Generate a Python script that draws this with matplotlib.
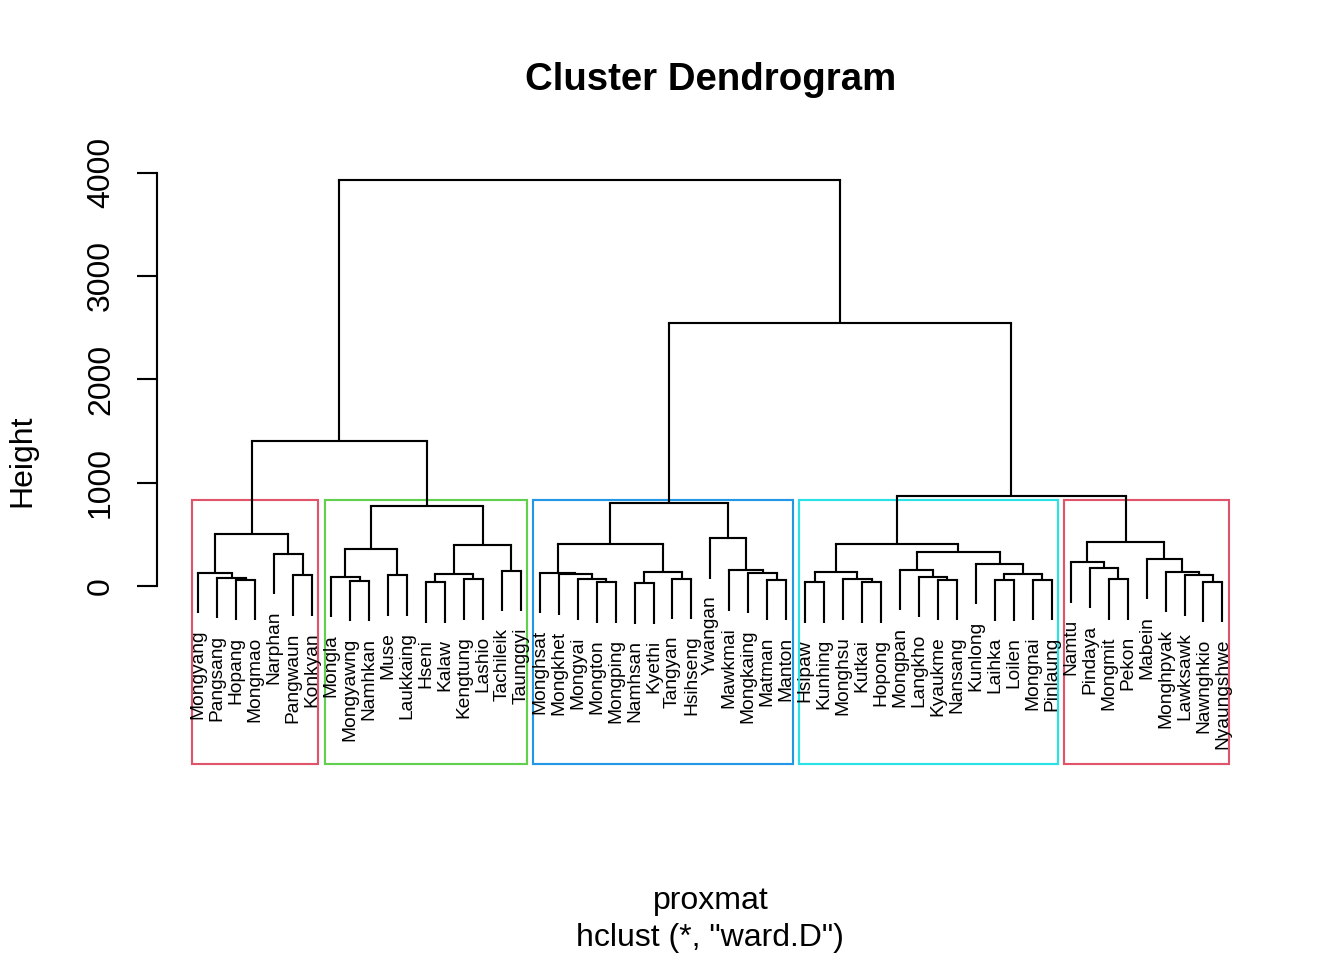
import matplotlib
matplotlib.use("Agg")
import matplotlib.pyplot as plt
from matplotlib.patches import Rectangle

plt.rcParams['font.family'] = ['Liberation Sans', 'DejaVu Sans']

# leaf labels in the order they are drawn
labels = ["Mongyang", "Pangsang", "Hopang", "Mongmao", "Narphan", "Pangwaun", "Konkyan",
          "Mongla", "Mongyawng", "Namhkan", "Muse", "Laukkaing", "Hseni", "Kalaw",
          "Kengtung", "Lashio", "Tachileik", "Taunggyi",
          "Monghsat", "Mongkhet", "Mongyai", "Mongton", "Mongping", "Namhsan", "Kyethi",
          "Tangyan", "Hsihseng", "Ywangan", "Mawkmai", "Mongkaing", "Matman", "Manton",
          "Hsipaw", "Kunhing", "Monghsu", "Kutkai", "Hopong", "Mongpan", "Langkho",
          "Kyaukme", "Nansang", "Kunlong", "Laihka", "Loilen", "Mongnai", "Pinlaung",
          "Namtu", "Pindaya", "Mongmit", "Pekon", "Mabein", "Monghpyak", "Lawksawk",
          "Nawnghkio", "Nyaungshwe"]

# merges: a child is a leaf name (str) or the index of an earlier merge (int)
merge_left = ["Hopang", "Pangsang", "Mongyang", "Pangwaun", "Narphan", 2,
              "Mongyawng", "Mongla", "Muse", 7, "Hseni", "Kengtung", 10, "Tachileik", 12, 9, 5,
              "Mongton", "Mongyai", "Mongkhet", "Monghsat", "Namhsan", "Tangyan", 21, 20,
              "Matman", "Mongkaing", "Mawkmai", "Ywangan", 24,
              "Hsipaw", "Kutkai", "Monghsu", 30, "Kyaukme", "Langkho", "Mongpan",
              "Laihka", "Mongnai", 37, "Kunlong", 36, 33,
              "Mongmit", "Pindaya", "Namtu", "Nawnghkio", "Lawksawk", "Monghpyak", "Mabein", 45,
              42, 29, 16]
merge_right = ["Mongmao", 0, 1, "Konkyan", 3, 4,
               "Namhkan", 6, "Laukkaing", 8, "Kalaw", "Lashio", 11, "Taunggyi", 13, 14, 15,
               "Mongping", 17, 18, 19, "Kyethi", "Hsihseng", 22, 23,
               "Manton", 25, 26, 27, 28,
               "Kunhing", "Hopong", 31, 32, "Nansang", 34, 35,
               "Loilen", "Pinlaung", 38, 39, 40, 41,
               "Pekon", 43, 44, "Nyaungshwe", 46, 47, 48, 49,
               50, 51, 52]
merge_height = [61, 84, 132, 106, 312, 505,
                51, 90, 106, 357, 39, 68, 122, 151, 396, 776, 1405,
                39, 68, 116, 129, 29, 74, 142, 412,
                64, 129, 155, 464, 805,
                39, 39, 68, 139, 64, 90, 161,
                58, 61, 116, 219, 331, 406,
                68, 177, 232, 45, 106, 139, 264, 432,
                872, 2545, 3929]

n_clusters = 5
rect_colors = ["#DF536B", "#61D04F", "#2297E6", "#28E2E5", "#DF536B"]
label_room = -1502  # extra space R leaves below the tree for the labels

n = len(labels)
leaf_x = {name: i + 1 for i, name in enumerate(labels)}
hang = 0.1 * (max(merge_height) - min(merge_height))

fig = plt.figure(figsize=(7, 5), dpi=192)
ax = fig.add_axes([157.4 / 1344, 195.8 / 960, 1106 / 1344, 606.8 / 960])

ext_x = 0.04 * (n - 1)
ax.set_xlim(1 - ext_x, n + ext_x)
ymax = max(merge_height)
ext_y = 0.04 * (ymax - label_room)
ax.set_ylim(label_room - ext_y, ymax + ext_y)

node_x = []
node_leaves = []
for i in range(len(merge_height)):
    h = merge_height[i]
    xs = []
    for child in (merge_left[i], merge_right[i]):
        if isinstance(child, str):
            cx, cy = leaf_x[child], h - hang
            ax.annotate(child, xy=(cx, cy), xytext=(0, -6.2), textcoords='offset points',
                        rotation=90, ha='center', va='top', fontsize=7.2)
        else:
            cx, cy = node_x[child], merge_height[child]
        ax.plot([cx, cx], [cy, h], color='black', lw=0.8, solid_capstyle='butt')
        xs.append(cx)
    ax.plot(xs, [h, h], color='black', lw=0.8, solid_capstyle='projecting')
    node_x.append(sum(xs) / 2)
    leaves = []
    for child in (merge_left[i], merge_right[i]):
        leaves += [leaf_x[child]] if isinstance(child, str) else node_leaves[child]
    node_leaves.append(leaves)

# rect.hclust style boxes for k clusters
hs = sorted(merge_height, reverse=True)
cut = (hs[n_clusters - 2] + hs[n_clusters - 1]) / 2
groups = []
for i, h in enumerate(merge_height):
    if h < cut:
        parent = [j for j in range(len(merge_height)) if i in (merge_left[j], merge_right[j])]
        if parent and merge_height[parent[0]] >= cut:
            groups.append(node_leaves[i])
groups.sort(key=min)
y0 = ax.get_ylim()[0]
for g, col in zip(groups, rect_colors):
    ax.add_patch(Rectangle((min(g) - 0.34, y0), max(g) - min(g) + 0.67, cut - y0,
                           fill=False, edgecolor=col, lw=0.8, clip_on=False))

for side in ['top', 'right', 'bottom']:
    ax.spines[side].set_visible(False)
ax.spines['left'].set_bounds(0, 4000)
ax.spines['left'].set_linewidth(0.8)
ax.set_xticks([])
ax.set_yticks([0, 1000, 2000, 3000, 4000])
ax.set_yticklabels(["0", "1000", "2000", "3000", "4000"], rotation=90, va='center')
ax.tick_params(axis='y', length=7.5, width=0.8, labelsize=12, pad=8)

fig.text(710.4 / 1344, 1 - 80 / 960, "Cluster Dendrogram", ha='center', va='center',
         fontsize=14.4, fontweight='bold')
fig.text(22 / 1344, 1 - 460.8 / 960, "Height", rotation=90, ha='center', va='center', fontsize=12)
fig.text(710.4 / 1344, 1 - 901 / 960, "proxmat", ha='center', va='center', fontsize=12)
fig.text(710.4 / 1344, 1 - 938 / 960, 'hclust (*, "ward.D")', ha='center', va='center', fontsize=12)

fig.savefig("out.png", dpi=192)
